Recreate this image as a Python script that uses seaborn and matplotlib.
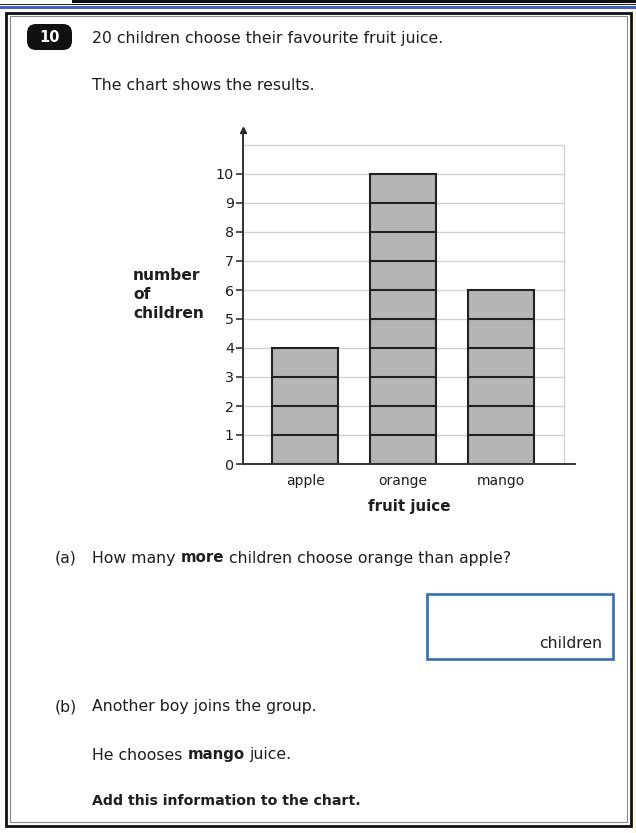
import matplotlib
matplotlib.use("Agg")
import matplotlib.pyplot as plt
import pandas as pd
import seaborn as sns
from matplotlib.patches import FancyBboxPatch, Rectangle
from matplotlib.transforms import IdentityTransform

# chart data
juices = ["apple", "orange", "mango"]
children = [4, 10, 6]
y_ticks = list(range(0, 11))
grid_levels = list(range(1, 12))

# page text
question = "20 children choose their favourite fruit juice."
intro = "The chart shows the results."
part_a = [("How many", "normal"), ("more", "bold"), ("children choose orange than apple?", "normal")]
part_b1 = [("Another boy joins the group.", "normal")]
part_b2 = [("He chooses", "normal"), ("mango", "bold"), ("juice.", "normal")]
part_b3 = [("Add this information to the chart.", "bold")]

W, H = 636, 833
INK = "#1e1e1e"

sns.set_theme(style="white")
plt.rcParams['font.family'] = ['DejaVu Sans']

fig = plt.figure(figsize=(W / 100, H / 100), dpi=100)
fig.patch.set_facecolor("white")
rend = fig.canvas.get_renderer()


def fx(x):
    return x / W


def fy(y):
    return 1 - y / H


def px_rect(x0, y0, x1, y1, **kw):
    # rectangle given in image pixels (origin top-left)
    return Rectangle((x0, H - y1), x1 - x0, y1 - y0, transform=IdentityTransform(), **kw)


def put_line(x, y, parts, size=11.3, bold_size=10.8):
    cur = x
    for s, w in parts:
        sz = bold_size if w == "bold" else size
        t = fig.text(fx(cur), fy(y), s, fontsize=sz, fontweight=w,
                     ha="left", va="center", color=INK)
        # DejaVu space advance is ~0.318 em
        cur += t.get_window_extent(renderer=rend).width + 0.318 * size * 100 / 72


# ---- page decoration ----
fig.add_artist(px_rect(632, 0, 636, H, facecolor="#fdf8df", edgecolor="none"))
fig.add_artist(px_rect(72, 0, 636, 2.5, facecolor="#111111", edgecolor="none"))
fig.add_artist(px_rect(0, 4, 636, 5, facecolor="#222222", edgecolor="none"))
fig.add_artist(px_rect(0, 6, 636, 8.5, facecolor="#3f5fd6", edgecolor="none"))
fig.add_artist(px_rect(6, 13, 631, 826, facecolor="none", edgecolor="#111111", lw=2.0))
fig.add_artist(px_rect(10, 16, 627, 822, facecolor="none", edgecolor="#8a8a8a", lw=0.8))

# question number badge
badge = FancyBboxPatch((27, H - 50), 45, 26, boxstyle="round,pad=0,rounding_size=9",
                       transform=IdentityTransform(), facecolor="#111111", edgecolor="none")
fig.add_artist(badge)
fig.text(fx(49.5), fy(37.5), "10", color="white", fontsize=10.5, fontweight="bold",
         ha="center", va="center")

put_line(92, 38, [(question, "normal")])
put_line(92, 86, [(intro, "normal")])

# ---- chart ----
x_px_per_unit = 98.0
left_px, right_px, base_px, unit_px = 243, 575, 464, 29.0
y_top = 11.5
ax = fig.add_axes([fx(left_px), fy(base_px), (right_px - left_px) / W, y_top * unit_px / H])

df = pd.DataFrame({"juice": juices, "children": children})
sns.barplot(data=df, x="juice", y="children", color="#b5b5b5", saturation=1,
            width=0.665, edgecolor="#222222", linewidth=1.5, ax=ax, zorder=3)

x_left = -(305 - left_px) / x_px_per_unit
x_right = x_left + (right_px - left_px) / x_px_per_unit
grid_right = 2 + (563 - 500.5) / x_px_per_unit
ax.set_xlim(x_left, x_right)
ax.set_ylim(0, y_top)

# unit divisions inside each bar
for patch in ax.patches:
    x0, w, h = patch.get_x(), patch.get_width(), patch.get_height()
    ax.hlines(range(1, int(round(h))), x0, x0 + w, color="#222222", lw=1.5, zorder=4)

# light grid
ax.hlines(grid_levels, x_left, grid_right, color="#d2d2d2", lw=1.0, zorder=1)
ax.vlines(grid_right, 0, grid_levels[-1], color="#d2d2d2", lw=1.0, zorder=1)

for side in ["top", "right"]:
    ax.spines[side].set_visible(False)
for side in ["left", "bottom"]:
    ax.spines[side].set_color("#333333")
    ax.spines[side].set_linewidth(1.4)
    ax.spines[side].set_zorder(5)
ax.plot([0], [1], marker="^", ms=4.5, color="#222222", transform=ax.transAxes, clip_on=False)

ax.set_yticks(y_ticks)
ax.tick_params(axis="y", direction="out", length=5, width=1.2, color="#333333",
               pad=1.5, labelsize=10.3, labelcolor=INK, left=True)
ax.tick_params(axis="x", length=0, pad=7, labelsize=10, labelcolor=INK)
ax.set_ylabel("")
ax.set_xlabel("fruit juice", fontsize=10.9, fontweight="bold", color=INK, labelpad=8)
ax.set_facecolor("white")

fig.text(fx(133), fy(294.5), "number\nof\nchildren", fontsize=11.2, fontweight="bold",
         color=INK, ha="left", va="center", linespacing=1.3, multialignment="left")

# ---- questions ----
fig.text(fx(55), fy(558), "(a)", fontsize=11.3, color=INK, ha="left", va="center")
put_line(92, 558, part_a)

fig.add_artist(px_rect(427, 594, 613, 659, facecolor="none", edgecolor="#2e6fc0", lw=1.9))
fig.text(fx(602), fy(643), "children", fontsize=11.3, color=INK, ha="right", va="center")

fig.text(fx(55), fy(707), "(b)", fontsize=11.3, color=INK, ha="left", va="center")
put_line(92, 707, part_b1)
put_line(92, 755, part_b2)
put_line(92, 801, part_b3, bold_size=10.2)

fig.savefig("out.png", dpi=100, facecolor="white")
